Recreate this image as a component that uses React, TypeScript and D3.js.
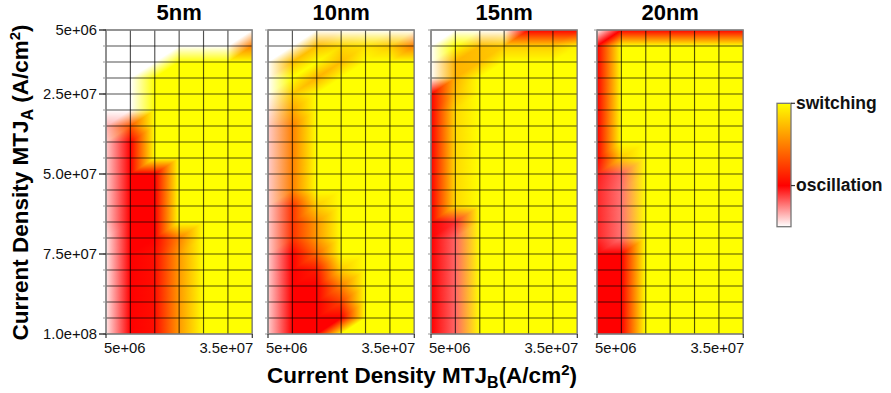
import React from 'react';
import * as d3 from 'd3';

// ---------- data ----------
const panelTitles = ['5nm', '10nm', '15nm', '20nm'];
// node coordinates (A/cm^2)
const densityB = [5e6, 1e7, 1.5e7, 2e7, 2.5e7, 3e7, 3.5e7];
const densityA = [
  5e6, 1e7, 1.5e7, 2e7, 2.5e7, 3e7, 3.5e7, 4e7, 4.5e7, 5e7,
  5.5e7, 6e7, 6.5e7, 7e7, 7.5e7, 8e7, 8.5e7, 9e7, 9.5e7, 1e8,
];
const yTickValues = [5e6, 2.5e7, 5e7, 7.5e7, 1e8];
const yTickLabels = ['5e+06', '2.5e+07', '5.0e+07', '7.5e+07', '1.0e+08'];
const xTickValues = [5e6, 3.5e7];
const xTickLabels = ['5e+06', '3.5e+07'];
// state scale: 0 = none (white), 1 = oscillation (red), 3 = switching (yellow)
const legendValues = [3, 1];
const legendLabels = ['switching', 'oscillation'];

// rows: densityA (top -> bottom), columns: densityB (left -> right)
const state5nm = [
  [0, 0, 0, 0, 0, 0, 0],
  [0, 0, 0, 0, 0, 0, 2],
  [0, 0, 0, 3, 3, 3, 3],
  [0, 0, 3, 3, 3, 3, 3],
  [0, 0, 3, 3, 3, 3, 3],
  [0, 0, 3, 3, 3, 3, 3],
  [0.3, 1.7, 3, 3, 3, 3, 3],
  [0.2, 1, 3, 3, 3, 3, 3],
  [0.2, 1, 3, 3, 3, 3, 3],
  [0.2, 1, 1, 3, 3, 3, 3],
  [0.2, 1, 1, 3, 3, 3, 3],
  [0.2, 1, 1, 3, 3, 3, 3],
  [0.2, 1, 1, 3, 3, 3, 3],
  [0.1, 1, 1, 2, 3, 3, 3],
  [0.1, 1, 1.1, 2.2, 3, 3, 3],
  [0.1, 1, 1.1, 2.2, 3, 3, 3],
  [0.1, 1, 1.1, 2.2, 3, 3, 3],
  [0.1, 1, 1.1, 2.2, 3, 3, 3],
  [0.1, 1, 1.1, 2.2, 3, 3, 3],
  [0.1, 1, 1.1, 2.2, 3, 3, 3],
];
const state10nm = [
  [0, 0, 0, 0, 0, 0, 0],
  [0, 0, 2.5, 2.7, 2.8, 2.6, 2],
  [0, 2.5, 3, 2.5, 3, 3, 3],
  [0, 3, 2.4, 3, 3, 3, 3],
  [0, 2.6, 3, 3, 3, 3, 3],
  [0.1, 2.3, 3, 3, 3, 3, 3],
  [0.2, 2, 3, 3, 3, 3, 3],
  [0.2, 2, 3, 3, 3, 3, 3],
  [0.2, 2, 3, 3, 3, 3, 3],
  [0.2, 2, 3, 3, 3, 3, 3],
  [0.2, 2, 3, 3, 3, 3, 3],
  [0.2, 1.4, 2.6, 3, 3, 3, 3],
  [0.2, 1.4, 2.2, 3, 3, 3, 3],
  [0.2, 1.4, 2.2, 3, 3, 3, 3],
  [0.2, 1, 1.8, 3, 3, 3, 3],
  [0.2, 1, 1.2, 2.6, 3, 3, 3],
  [0.2, 1, 1, 2, 3, 3, 3],
  [0.2, 1, 1, 1.5, 3, 3, 3],
  [0.2, 1, 1, 1, 3, 3, 3],
  [0.2, 1, 1, 3, 3, 3, 3],
];
const state15nm = [
  [0, 0, 0, 0, 1, 1, 1],
  [0, 3, 2.5, 2.6, 2.6, 2.6, 2.9],
  [0, 2.4, 2.5, 3, 3, 3, 3],
  [0, 2.4, 3, 3, 3, 3, 3],
  [1, 2.5, 3, 3, 3, 3, 3],
  [1, 2.7, 3, 3, 3, 3, 3],
  [1, 2.7, 3, 3, 3, 3, 3],
  [1, 2.7, 3, 3, 3, 3, 3],
  [1, 2.7, 3, 3, 3, 3, 3],
  [1, 2.7, 3, 3, 3, 3, 3],
  [1, 2.7, 3, 3, 3, 3, 3],
  [1, 2.7, 3, 3, 3, 3, 3],
  [1, 0.8, 3, 3, 3, 3, 3],
  [1, 0.6, 3, 3, 3, 3, 3],
  [1, 0.6, 3, 3, 3, 3, 3],
  [1, 0.6, 3, 3, 3, 3, 3],
  [1, 0.6, 3, 3, 3, 3, 3],
  [1, 0.6, 3, 3, 3, 3, 3],
  [1, 0.6, 3, 3, 3, 3, 3],
  [1, 0.6, 3, 3, 3, 3, 3],
];
const state20nm = [
  [0, 1, 1, 1, 1, 1, 1],
  [1, 3, 3, 3, 3, 3, 3],
  [1, 3, 3, 3, 3, 3, 3],
  [1, 3, 3, 3, 3, 3, 3],
  [1, 3, 3, 3, 3, 3, 3],
  [1, 3, 3, 3, 3, 3, 3],
  [1, 3, 3, 3, 3, 3, 3],
  [1, 3, 3, 3, 3, 3, 3],
  [1, 2.6, 3, 3, 3, 3, 3],
  [0.9, 0.6, 3, 3, 3, 3, 3],
  [0.85, 0.55, 3, 3, 3, 3, 3],
  [0.85, 0.55, 3, 3, 3, 3, 3],
  [0.85, 0.55, 3, 3, 3, 3, 3],
  [0.85, 0.55, 3, 3, 3, 3, 3],
  [1, 1, 3, 3, 3, 3, 3],
  [1, 1, 3, 3, 3, 3, 3],
  [1, 1, 3, 3, 3, 3, 3],
  [1, 1, 3, 3, 3, 3, 3],
  [1, 1, 3, 3, 3, 3, 3],
  [1, 1, 3, 3, 3, 3, 3],
];
const panelStates = [state5nm, state10nm, state15nm, state20nm];

// ---------- layout ----------
const W = 891;
const H = 393;
const panelLefts = [106, 268, 431, 597];
const panelWidth = 146.3;
const plotTop = 30;
const plotBottom = 334;
const FONT = '"Liberation Sans", Arial, Helvetica, sans-serif';

const colorScale = d3
  .scaleLinear<string>()
  .domain([0, 1, 3])
  .range(['#ffffff', '#ff0000', '#ffff00'])
  .interpolate(d3.interpolateRgb)
  .clamp(true);

function locate(arr: number[], val: number) {
  let j = d3.bisectRight(arr, val) - 1;
  j = Math.max(0, Math.min(arr.length - 2, j));
  const t = (val - arr[j]) / (arr[j + 1] - arr[j]);
  return [j, Math.max(0, Math.min(1, t))];
}

type RGB = { r: number; g: number; b: number };

function Panel({ data, left, idx }: { data: number[][]; left: number; idx: number }) {
  const x = d3.scaleLinear().domain([densityB[0], densityB[densityB.length - 1]]).range([left, left + panelWidth]);
  const y = d3.scaleLinear().domain([densityA[0], densityA[densityA.length - 1]]).range([plotTop, plotBottom]);
  const nodes: RGB[][] = data.map((row) => row.map((v) => d3.rgb(colorScale(v))));

  const mix = (i: number, j: number, u: number, v: number) => {
    const TL = nodes[j][i], TR = nodes[j][i + 1], BL = nodes[j + 1][i], BR = nodes[j + 1][i + 1];
    let wTL = 0, wTR = 0, wBL = 0, wBR = 0;
    if (u + v <= 1) {
      wTL = 1 - u - v; wTR = u; wBL = v;
    } else {
      wBR = u + v - 1; wTR = 1 - v; wBL = 1 - u;
    }
    const c = (k: 'r' | 'g' | 'b') => Math.round(TL[k] * wTL + TR[k] * wTR + BL[k] * wBL + BR[k] * wBR);
    return `rgb(${c('r')},${c('g')},${c('b')})`;
  };

  const defs: React.ReactNode[] = [];
  const strips: React.ReactNode[] = [];
  for (let py = plotTop; py < plotBottom; py++) {
    const a = y.invert(py + 0.5);
    const [j, v] = locate(densityA, a);
    const stops: React.ReactNode[] = [];
    for (let i = 0; i < densityB.length - 1; i++) {
      const us = [0];
      if (1 - v > 0 && 1 - v < 1) us.push(1 - v);
      us.push(1);
      us.forEach((u, k) => {
        const bx = densityB[i] + u * (densityB[i + 1] - densityB[i]);
        const off = (x(bx) - left) / panelWidth;
        stops.push(<stop key={`${i}-${k}`} offset={off} stopColor={mix(i, j, u, v)} />);
      });
    }
    const id = `hg${idx}-${py}`;
    defs.push(
      <linearGradient key={id} id={id} x1="0" x2="1" y1="0" y2="0">
        {stops}
      </linearGradient>
    );
    strips.push(<rect key={id} x={left} y={py} width={panelWidth} height={1} fill={`url(#${id})`} />);
  }

  return (
    <g>
      <defs>{defs}</defs>
      <g shapeRendering="crispEdges">{strips}</g>
      {/* grid */}
      <g stroke="#000" strokeOpacity={0.68} strokeWidth={1.15}>
        {densityB.map((b) => (
          <line key={`v${b}`} x1={x(b)} x2={x(b)} y1={plotTop} y2={plotBottom} />
        ))}
        {densityA.map((a) => (
          <line key={`h${a}`} x1={left} x2={left + panelWidth} y1={y(a)} y2={y(a)} />
        ))}
      </g>
      <rect x={left} y={plotTop} width={panelWidth} height={plotBottom - plotTop} fill="none" stroke="#8c8c8c" strokeWidth={1.4} />
      {/* minor left ticks */}
      <g stroke="#999" strokeWidth={1}>
        {densityA.map((a) => (
          <line key={`mt${a}`} x1={left - 3} x2={left} y1={y(a)} y2={y(a)} />
        ))}
      </g>
      {/* bottom ticks and labels */}
      {xTickValues.map((b, k) => (
        <g key={`xt${b}`}>
          <line x1={x(b)} x2={x(b)} y1={plotBottom} y2={plotBottom + 4} stroke="#333" strokeWidth={1.2} />
          <text
            x={x(b) + (k === 0 ? -2 : 1)}
            y={352.5}
            textAnchor={k === 0 ? 'start' : 'end'}
            fontFamily={FONT}
            fontSize={14.8}
            fill="#111"
          >
            {xTickLabels[k]}
          </text>
        </g>
      ))}
      {/* left axis on first panel */}
      {idx === 0 &&
        yTickValues.map((a, k) => (
          <g key={`yt${a}`}>
            <line x1={left - 7} x2={left} y1={y(a)} y2={y(a)} stroke="#222" strokeWidth={1.3} />
            <text x={left - 9} y={y(a)} dy="0.36em" textAnchor="end" fontFamily={FONT} fontSize={14.8} fill="#111">
              {yTickLabels[k]}
            </text>
          </g>
        ))}
      <text
        x={left + panelWidth / 2}
        y={19.5}
        textAnchor="middle"
        fontFamily={FONT}
        fontWeight="bold"
        fontSize={22}
        fill="#000"
      >
        {panelTitles[idx]}
      </text>
    </g>
  );
}

function Legend() {
  const lx = 777;
  const lw = 14;
  const ly = d3.scaleLinear().domain([0, 3]).range([226.7, 103.3]);
  const gradStops = [3, 2, 1, 0.5, 0].map((v) => ({ off: (ly(v) - ly(3)) / (ly(0) - ly(3)), c: colorScale(v) }));
  return (
    <g>
      <defs>
        <linearGradient id="legendGrad" x1="0" x2="0" y1="0" y2="1">
          {gradStops.map((s, i) => (
            <stop key={i} offset={s.off} stopColor={s.c} />
          ))}
        </linearGradient>
      </defs>
      <rect x={lx} y={ly(3)} width={lw} height={ly(0) - ly(3)} fill="url(#legendGrad)" stroke="#777" strokeWidth={1.3} />
      {legendValues.map((v, k) => (
        <g key={v}>
          <line x1={lx + lw} x2={lx + lw + 4} y1={ly(v)} y2={ly(v)} stroke="#333" strokeWidth={1.2} />
          <text
            x={lx + lw + 5}
            y={ly(v)}
            dy="0.32em"
            fontFamily={FONT}
            fontWeight="bold"
            fontSize={17.5}
            fill="#111"
          >
            {legendLabels[k]}
          </text>
        </g>
      ))}
    </g>
  );
}

export default function App() {
  return (
    <svg
      width={W}
      height={H}
      viewBox={`0 0 ${W} ${H}`}
      style={{ position: 'absolute', left: 0, top: 0, background: '#fff' }}
    >
      <rect x={0} y={0} width={W} height={H} fill="#fff" />
      {panelStates.map((data, idx) => (
        <Panel key={idx} data={data} left={panelLefts[idx]} idx={idx} />
      ))}
      <Legend />
      {/* axis titles */}
      <text
        transform={`translate(28,182.5) rotate(-90)`}
        textAnchor="middle"
        fontFamily={FONT}
        fontWeight="bold"
        fontSize={22.5}
        fill="#000"
      >
        Current Density MTJ
        <tspan fontSize={16} dy={5}>A</tspan>
        <tspan dy={-5}> (A/cm</tspan>
        <tspan fontSize={15} dy={-8}>2</tspan>
        <tspan dy={8}>)</tspan>
      </text>
      <text x={422} y={383} textAnchor="middle" fontFamily={FONT} fontWeight="bold" fontSize={22.5} fill="#000">
        Current Density MTJ
        <tspan fontSize={16} dy={5}>B</tspan>
        <tspan dy={-5}>(A/cm</tspan>
        <tspan fontSize={15} dy={-8}>2</tspan>
        <tspan dy={8}>)</tspan>
      </text>
    </svg>
  );
}
